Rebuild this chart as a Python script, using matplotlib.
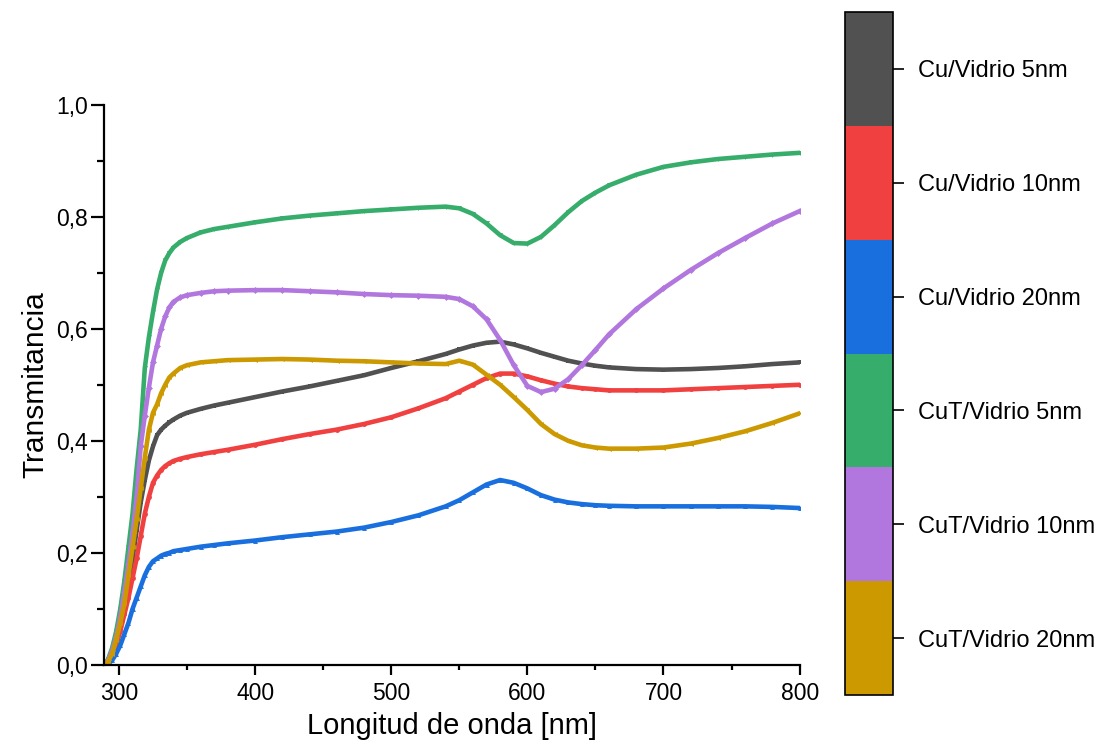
import matplotlib
matplotlib.use("Agg")
from matplotlib import pyplot as plt
from matplotlib.colors import ListedColormap, BoundaryNorm
from matplotlib.cm import ScalarMappable
from matplotlib.ticker import FuncFormatter, MultipleLocator

plt.rcParams['font.family'] = ['Liberation Sans', 'DejaVu Sans']

wl = [289, 292, 295, 298, 301, 304, 307, 310, 313, 316, 319, 322, 325, 328, 331, 334, 337, 340,
      345, 350, 360, 370, 380, 400, 420, 440, 460, 480, 500, 520, 540, 550, 560, 570, 580, 590,
      600, 610, 620, 630, 640, 650, 660, 680, 700, 720, 740, 760, 780, 800]

cu_5 = [0, 0.005, 0.02, 0.045, 0.075, 0.11, 0.15, 0.19, 0.24, 0.29, 0.33, 0.365, 0.39, 0.41, 0.42,
        0.427, 0.433, 0.438, 0.445, 0.45, 0.457, 0.463, 0.468, 0.478, 0.488, 0.497, 0.507, 0.517,
        0.53, 0.542, 0.555, 0.563, 0.57, 0.575, 0.577, 0.572, 0.565, 0.557, 0.55, 0.543, 0.538,
        0.534, 0.531, 0.528, 0.527, 0.528, 0.53, 0.533, 0.537, 0.54]
cu_10 = [0, 0.004, 0.015, 0.035, 0.06, 0.09, 0.12, 0.155, 0.19, 0.23, 0.27, 0.3, 0.325, 0.338,
         0.348, 0.355, 0.36, 0.364, 0.368, 0.371, 0.376, 0.38, 0.384, 0.393, 0.403, 0.412, 0.42,
         0.43, 0.442, 0.458, 0.476, 0.488, 0.5, 0.512, 0.52, 0.52, 0.515, 0.508, 0.502, 0.497,
         0.494, 0.492, 0.49, 0.49, 0.49, 0.492, 0.494, 0.496, 0.498, 0.5]
cu_20 = [0, 0.002, 0.008, 0.02, 0.035, 0.055, 0.075, 0.1, 0.12, 0.14, 0.16, 0.175, 0.185, 0.19,
         0.195, 0.198, 0.2, 0.203, 0.205, 0.207, 0.211, 0.214, 0.217, 0.222, 0.228, 0.233, 0.238,
         0.245, 0.255, 0.267, 0.283, 0.294, 0.308, 0.322, 0.33, 0.325, 0.315, 0.303, 0.295, 0.29,
         0.287, 0.285, 0.284, 0.283, 0.283, 0.283, 0.283, 0.283, 0.282, 0.28]
cut_5 = [0, 0.01, 0.03, 0.06, 0.1, 0.15, 0.21, 0.27, 0.35, 0.42, 0.53, 0.585, 0.63, 0.67, 0.7,
         0.722, 0.735, 0.745, 0.755, 0.762, 0.772, 0.778, 0.782, 0.79, 0.797, 0.802, 0.806, 0.81,
         0.813, 0.816, 0.818, 0.815, 0.805, 0.788, 0.767, 0.753, 0.752, 0.764, 0.785, 0.808, 0.828,
         0.843, 0.856, 0.875, 0.889, 0.897, 0.903, 0.907, 0.911, 0.914]
cut_10 = [0, 0.008, 0.025, 0.05, 0.085, 0.13, 0.18, 0.235, 0.3, 0.39, 0.445, 0.495, 0.54, 0.57,
          0.6, 0.622, 0.638, 0.648, 0.656, 0.66, 0.664, 0.667, 0.668, 0.669, 0.669, 0.667, 0.665,
          0.662, 0.66, 0.659, 0.657, 0.653, 0.64, 0.617, 0.58, 0.535, 0.498, 0.487, 0.493, 0.51,
          0.535, 0.562, 0.59, 0.635, 0.672, 0.705, 0.735, 0.762, 0.788, 0.81]
cut_20 = [0, 0.006, 0.02, 0.045, 0.075, 0.11, 0.16, 0.21, 0.26, 0.315, 0.37, 0.42, 0.45, 0.465,
          0.485, 0.5, 0.513, 0.52, 0.53, 0.535, 0.54, 0.542, 0.544, 0.545, 0.546, 0.545, 0.543,
          0.542, 0.54, 0.538, 0.537, 0.543, 0.536, 0.518, 0.5, 0.478, 0.455, 0.43, 0.412, 0.4,
          0.392, 0.388, 0.386, 0.386, 0.388, 0.395, 0.405, 0.417, 0.432, 0.449]

labels = ["Cu/Vidrio 5nm", "Cu/Vidrio 10nm", "Cu/Vidrio 20nm",
          "CuT/Vidrio 5nm", "CuT/Vidrio 10nm", "CuT/Vidrio 20nm"]
series = [cu_5, cu_10, cu_20, cut_5, cut_10, cut_20]
colors = ['#515151', '#F14040', '#1A6FDF', '#37AD6B', '#B177DE', '#CC9900']
markers = ['s', 'o', '^', 'v', 'D', '<']

fig = plt.figure(figsize=(11.06, 7.53), dpi=100)
ax = fig.add_axes([0.094, 0.117, 0.629, 0.744])

for y, c, m, lab in zip(series, colors, markers, labels):
    ax.plot(wl, y, color=c, lw=3.3, marker=m, markersize=3.5, markeredgewidth=0, label=lab)

ax.set_xlim(289, 800)
ax.set_ylim(0, 1.0)
ax.xaxis.set_major_locator(MultipleLocator(100))
ax.xaxis.set_minor_locator(MultipleLocator(50))
ax.yaxis.set_major_locator(MultipleLocator(0.2))
ax.yaxis.set_minor_locator(MultipleLocator(0.1))
ax.yaxis.set_major_formatter(FuncFormatter(lambda v, p: f"{v:.1f}".replace('.', ',')))
for s in ['top', 'right']:
    ax.spines[s].set_visible(False)
for s in ['left', 'bottom']:
    ax.spines[s].set_linewidth(1.6)
ax.tick_params(which='both', direction='out', width=1.6)
ax.tick_params(axis='x', which='major', length=7, labelsize=16.5, pad=5)
ax.tick_params(axis='x', which='minor', length=3.6)
ax.tick_params(axis='y', which='major', length=9.5, labelsize=16.5, pad=2)
ax.tick_params(axis='y', which='minor', length=5)
ax.set_xlabel("Longitud de onda [nm]", fontsize=21, labelpad=5)
ax.set_ylabel("Transmitancia", fontsize=21.5, labelpad=5)

# colorbar-style legend on the right
cax = fig.add_axes([0.764, 0.077, 0.0434, 0.907])
cmap = ListedColormap(colors[::-1])
norm = BoundaryNorm(range(7), cmap.N)
cb = fig.colorbar(ScalarMappable(norm=norm, cmap=cmap), cax=cax)
cb.set_ticks([i + 0.5 for i in range(6)])
cb.set_ticklabels(labels[::-1])
cb.outline.set_linewidth(1.2)
cax.tick_params(length=8, width=1.2, labelsize=17, pad=10)
cax.minorticks_off()

plt.savefig('out.png')
